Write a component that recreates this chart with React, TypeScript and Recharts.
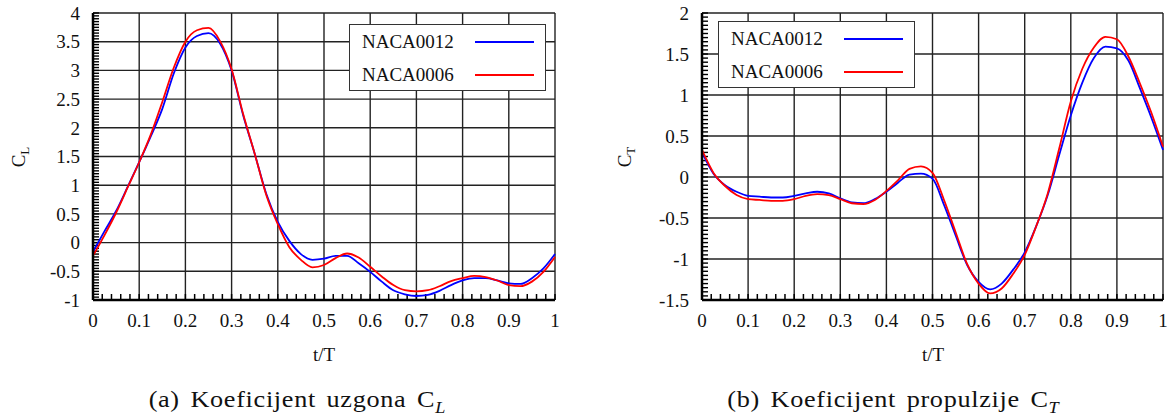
import React from "react";
import { LineChart, Line, XAxis, YAxis, CartesianGrid, Legend, ReferenceLine } from "recharts";

const FONT = '"Liberation Serif", "Times New Roman", serif';

// t/T sample points
const tValues = [
  0, 0.025, 0.05, 0.075, 0.1, 0.125, 0.15, 0.175, 0.2, 0.225,
  0.25, 0.275, 0.3, 0.325, 0.35, 0.375, 0.4, 0.425, 0.45, 0.475,
  0.5, 0.525, 0.55, 0.575, 0.6, 0.625, 0.65, 0.675, 0.7, 0.725,
  0.75, 0.775, 0.8, 0.825, 0.85, 0.875, 0.9, 0.925, 0.95, 0.975, 1,
];

// lift coefficient C_L
const clNaca0012 = [
  -0.16, 0.2, 0.55, 0.97, 1.4, 1.85, 2.33, 2.95, 3.4, 3.6,
  3.65, 3.47, 3.0, 2.22, 1.55, 0.85, 0.36, 0.03, -0.2, -0.3,
  -0.28, -0.23, -0.23, -0.36, -0.51, -0.68, -0.83, -0.9, -0.93, -0.91,
  -0.84, -0.74, -0.66, -0.62, -0.62, -0.66, -0.71, -0.72, -0.62, -0.45, -0.2,
];
const clNaca0006 = [
  -0.23, 0.13, 0.52, 0.96, 1.4, 1.88, 2.45, 3.05, 3.5, 3.7,
  3.74, 3.51, 3.02, 2.24, 1.55, 0.83, 0.32, -0.08, -0.3, -0.43,
  -0.39, -0.27, -0.19, -0.26, -0.42, -0.59, -0.74, -0.83, -0.85, -0.83,
  -0.76, -0.67, -0.62, -0.58, -0.6, -0.66, -0.74, -0.76, -0.68, -0.51, -0.25,
];

// thrust coefficient C_T
const ctNaca0012 = [
  0.3, 0.04, -0.1, -0.18, -0.23, -0.24, -0.25, -0.25, -0.23, -0.2,
  -0.18, -0.2, -0.26, -0.31, -0.32, -0.27, -0.18, -0.07, 0.03, 0.04,
  -0.02, -0.34, -0.71, -1.07, -1.28, -1.37, -1.3, -1.13, -0.92, -0.6,
  -0.22, 0.27, 0.75, 1.15, 1.45, 1.59, 1.57, 1.42, 1.08, 0.72, 0.33,
];
const ctNaca0006 = [
  0.33, 0.05, -0.11, -0.22, -0.27, -0.28, -0.29, -0.29, -0.27, -0.23,
  -0.21, -0.22, -0.27, -0.32, -0.33, -0.28, -0.17, -0.04, 0.1, 0.13,
  0.05, -0.28, -0.67, -1.06, -1.3, -1.42, -1.36, -1.18, -0.95, -0.6,
  -0.2, 0.35, 0.92, 1.32, 1.58, 1.71, 1.68, 1.47, 1.14, 0.78, 0.37,
];

const xTicks = [0, 0.1, 0.2, 0.3, 0.4, 0.5, 0.6, 0.7, 0.8, 0.9, 1];
const clTicks = [-1, -0.5, 0, 0.5, 1, 1.5, 2, 2.5, 3, 3.5, 4];
const ctTicks = [-1.5, -1, -0.5, 0, 0.5, 1, 1.5, 2];

const steps = (from: number, to: number, step: number) =>
  Array.from({ length: Math.round((to - from) / step) + 1 }, (_, i) => +(from + i * step).toFixed(4));

const xMinor = steps(0, 1, 0.02);
const clMinor = steps(-1, 4, 0.05);
const ctMinor = steps(-1.5, 2, 0.05);

const names = ["NACA0012", "NACA0006"];
const colors = ["#0000ff", "#ff0000"];

const PLOT_W = 462;
const PLOT_H = 287;
const MINOR_LEN = 6; // px

function BoxLegend({ x, y }: { x: number; y: number }) {
  return (
    <div
      style={{
        position: "absolute", left: x, top: y, width: 197, height: 67,
        border: "1.5px solid #333", background: "#fff", boxSizing: "border-box",
        fontFamily: FONT, fontSize: 19, color: "#111",
      }}
    >
      {names.map((n, i) => (
        <div key={n} style={{ position: "absolute", left: 12, top: 5 + i * 33, height: 24, lineHeight: "24px" }}>
          {n}
          <span style={{ position: "absolute", left: 113, top: 11, width: 59, height: 2, background: colors[i] }} />
        </div>
      ))}
    </div>
  );
}

interface PanelProps {
  left: number;
  a: number[];
  b: number[];
  yDomain: [number, number];
  yTicks: number[];
  yMinor: number[];
  legendX: number;
  legendY: number;
}

function Panel({ left, a, b, yDomain, yTicks, yMinor, legendX, legendY }: PanelProps) {
  const data = tValues.map((t, i) => ({ t, a: a[i], b: b[i] }));
  const tickStyle = { fontSize: 19, fill: "#111", fontFamily: FONT };
  const [y0, y1] = yDomain;
  const dy = ((y1 - y0) * MINOR_LEN) / PLOT_H;
  const dx = MINOR_LEN / PLOT_W;
  return (
    <div style={{ position: "absolute", left, top: 0 }}>
      <LineChart width={left === 0 ? 580 : 566} height={340} data={data}
        margin={{ top: 13, right: left === 0 ? 25 : 12, left: 0, bottom: 0 }}>
        <CartesianGrid stroke="#222" strokeWidth={1.4} />
        <XAxis type="number" dataKey="t" domain={[0, 1]} ticks={xTicks} interval={0}
          tickLine={false} tickSize={6} tickMargin={8} height={40}
          axisLine={{ stroke: "#000", strokeWidth: 2.5 }} tick={tickStyle} />
        <YAxis type="number" domain={yDomain} ticks={yTicks} interval={0}
          tickLine={false} tickSize={6} tickMargin={7} width={93}
          axisLine={{ stroke: "#000", strokeWidth: 2.5 }} tick={tickStyle} />
        {/* minor ticks, pointing into the plot */}
        {xMinor.map((t) => (
          <ReferenceLine key={"xm" + t} segment={[{ x: t, y: y0 }, { x: t, y: y0 + dy }]}
            stroke="#000" strokeWidth={1.5} ifOverflow="extendDomain" />
        ))}
        {yMinor.map((v) => (
          <ReferenceLine key={"ym" + v} segment={[{ x: 0, y: v }, { x: dx, y: v }]}
            stroke="#000" strokeWidth={1.4} ifOverflow="extendDomain" />
        ))}
        <Line type="monotone" dataKey="a" name={names[0]} stroke={colors[0]} strokeWidth={1.8}
          dot={false} isAnimationActive={false} />
        <Line type="monotone" dataKey="b" name={names[1]} stroke={colors[1]} strokeWidth={1.8}
          dot={false} isAnimationActive={false} />
        <Legend content={() => <BoxLegend x={legendX} y={legendY} />}
          layout="vertical" align="center" verticalAlign="middle"
          wrapperStyle={{ left: 0, top: 0, width: 0, height: 0 }} />
      </LineChart>
    </div>
  );
}

const labelStyle: React.CSSProperties = {
  position: "absolute", fontFamily: FONT, fontSize: 19, color: "#111",
  lineHeight: "20px", whiteSpace: "nowrap",
};

const captionStyle: React.CSSProperties = {
  ...labelStyle, fontSize: 23, letterSpacing: 0.6, wordSpacing: 3, top: 390,
  transform: "translateX(-50%) scaleX(1.14)",
};

export default function App() {
  return (
    <div style={{ position: "absolute", left: 0, top: 0, width: 1175, height: 417, background: "#fff", overflow: "hidden" }}>
      <Panel left={0} a={clNaca0012} b={clNaca0006} yDomain={[-1, 4]} yTicks={clTicks} yMinor={clMinor}
        legendX={349} legendY={24} />
      <Panel left={609} a={ctNaca0012} b={ctNaca0006} yDomain={[-1.5, 2]} yTicks={ctTicks} yMinor={ctMinor}
        legendX={109} legendY={21} />

      <div style={{ ...labelStyle, left: 22, top: 157, transform: "translate(-50%, -50%) rotate(-90deg)" }}>
        C<sub style={{ fontSize: 13 }}>L</sub>
      </div>
      <div style={{ ...labelStyle, left: 628, top: 157, transform: "translate(-50%, -50%) rotate(-90deg)" }}>
        C<sub style={{ fontSize: 13 }}>T</sub>
      </div>
      <div style={{ ...labelStyle, left: 324, top: 345, transform: "translateX(-50%)" }}>t/T</div>
      <div style={{ ...labelStyle, left: 933, top: 345, transform: "translateX(-50%)" }}>t/T</div>

      <div style={{ ...captionStyle, left: 297 }}>
        (a) Koeficijent uzgona C<sub style={{ fontSize: 16, letterSpacing: 0 }}><i>L</i></sub>
      </div>
      <div style={{ ...captionStyle, left: 893 }}>
        (b) Koeficijent propulzije C<sub style={{ fontSize: 16, letterSpacing: 0 }}><i>T</i></sub>
      </div>
    </div>
  );
}
